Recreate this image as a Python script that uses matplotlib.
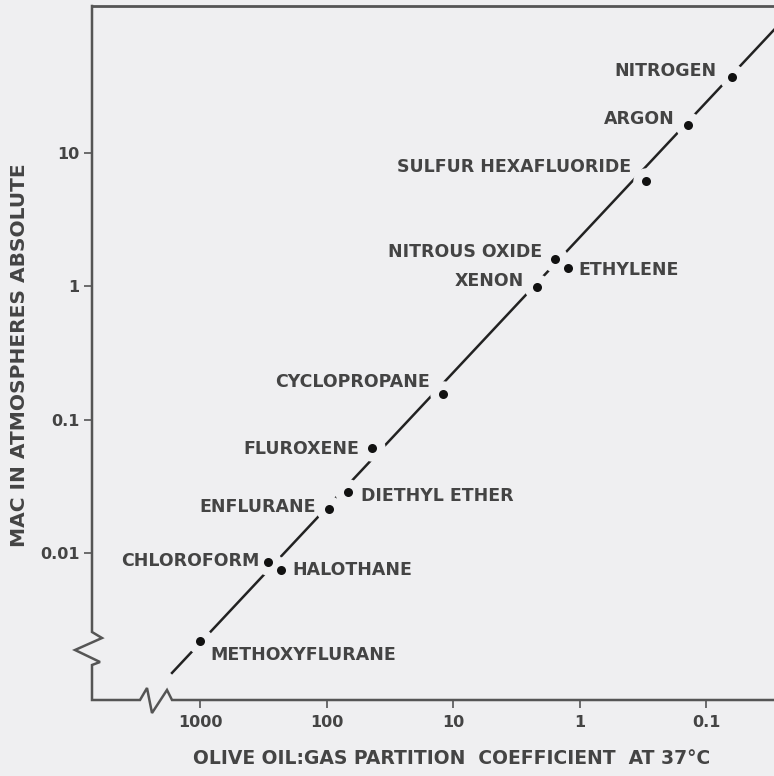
import matplotlib

matplotlib.use("Agg")

import matplotlib.pyplot as plt

# olive oil:gas partition coefficient vs MAC (atm)
agents = [
    "NITROGEN", "ARGON", "SULFUR HEXAFLUORIDE", "NITROUS OXIDE", "ETHYLENE",
    "XENON", "CYCLOPROPANE", "FLUROXENE", "DIETHYL ETHER", "ENFLURANE",
    "CHLOROFORM", "HALOTHANE", "METHOXYFLURANE",
]
partition = [0.062, 0.139, 0.30, 1.56, 1.23, 2.17, 12.0, 43.7, 67.6, 95.5, 290, 229, 1000]
mac = [37.2, 16.2, 6.2, 1.60, 1.37, 0.99, 0.156, 0.061, 0.0286, 0.0213, 0.00855, 0.00745, 0.00218]

# label offsets in pixels and alignment
label_dx = [-16, -13, -15, -13, 10, -13, -13, -13, 13, -13, -9, 11, 10]
label_dy = [6, 6, 14, 7, -2, 6, 12, -1, -4, 2, 1, 0, -14]
label_ha = ["right", "right", "right", "right", "left", "right", "right",
            "right", "left", "right", "right", "left", "left"]

# fitted line endpoints
line_x = [1665, 0.029]
line_y = [0.00126, 84]

x_ticks = [1000, 100, 10, 1, 0.1]
x_tick_labels = ["1000", "100", "10", "1", "0.1"]
y_ticks = [0.01, 0.1, 1, 10]
y_tick_labels = ["0.01", "0.1", "1", "10"]

bg = "#efeff1"
ink = "#444444"
axis_gray = "#555555"

fig = plt.figure(figsize=(7.74, 7.76), dpi=100, facecolor=bg)
W, H = 774, 776
left, bottom, top = 92, 700, 6
ax = fig.add_axes([left / W, 1 - bottom / H, 1 - left / W, (bottom - top) / H])
ax.set_facecolor(bg)

ax.set_xscale("log")
ax.set_yscale("log")
ax.set_xlim(7145, 0.029)
ax.set_ylim(0.000789, 126.8)

ax.plot(line_x, line_y, color="#222222", lw=1.8, zorder=2)
# gaps in the line around each point
ax.plot(partition, mac, "o", ms=19, color=bg, mec="none", zorder=3)
ax.plot(partition, mac, "o", ms=6.5, color="#111111", mec="none", zorder=4)

for name, x, y, dx, dy, ha in zip(agents, partition, mac, label_dx, label_dy, label_ha):
    ax.annotate(name, (x, y), xytext=(dx, dy), textcoords="offset pixels",
                ha=ha, va="center", fontsize=12.5, fontweight="bold",
                color=ink, zorder=5)

ax.set_xticks(x_ticks)
ax.set_xticklabels(x_tick_labels, fontweight="bold")
ax.set_yticks(y_ticks)
ax.set_yticklabels(y_tick_labels, fontweight="bold")
ax.minorticks_off()
ax.tick_params(axis="both", direction="out", length=6, width=1.2, color=axis_gray,
               labelcolor=ink, labelsize=11.5)
ax.tick_params(axis="x", pad=5)
ax.tick_params(axis="y", pad=3)

for side in ("left", "bottom", "right"):
    ax.spines[side].set_visible(False)
ax.spines["top"].set_color(axis_gray)
ax.spines["top"].set_linewidth(2)

# left and bottom axes with break marks, in pixel positions
frame_px = [(92, 6), (92, 632), (102, 638), (75, 650), (100, 662), (92, 665),
            (92, 700), (140, 700), (147, 688), (152, 713), (167, 690), (172, 700),
            (780, 700)]
fx = [(px - left) / (W - left) for px, py in frame_px]
fy = [(bottom - py) / (bottom - top) for px, py in frame_px]
ax.plot(fx, fy, transform=ax.transAxes, color=axis_gray, lw=1.8, clip_on=False,
        solid_joinstyle="miter", zorder=6)

fig.text(452 / W, 1 - 758 / H, "OLIVE OIL:GAS PARTITION  COEFFICIENT  AT 37°C",
         ha="center", va="center", fontsize=13.5, fontweight="bold", color=ink)
fig.text(20 / W, 1 - 355 / H, "MAC IN ATMOSPHERES ABSOLUTE", rotation=90,
         ha="center", va="center", fontsize=14.5, fontweight="bold", color=ink)

fig.savefig("out.png", dpi=100, facecolor=bg)
plt.close(fig)
